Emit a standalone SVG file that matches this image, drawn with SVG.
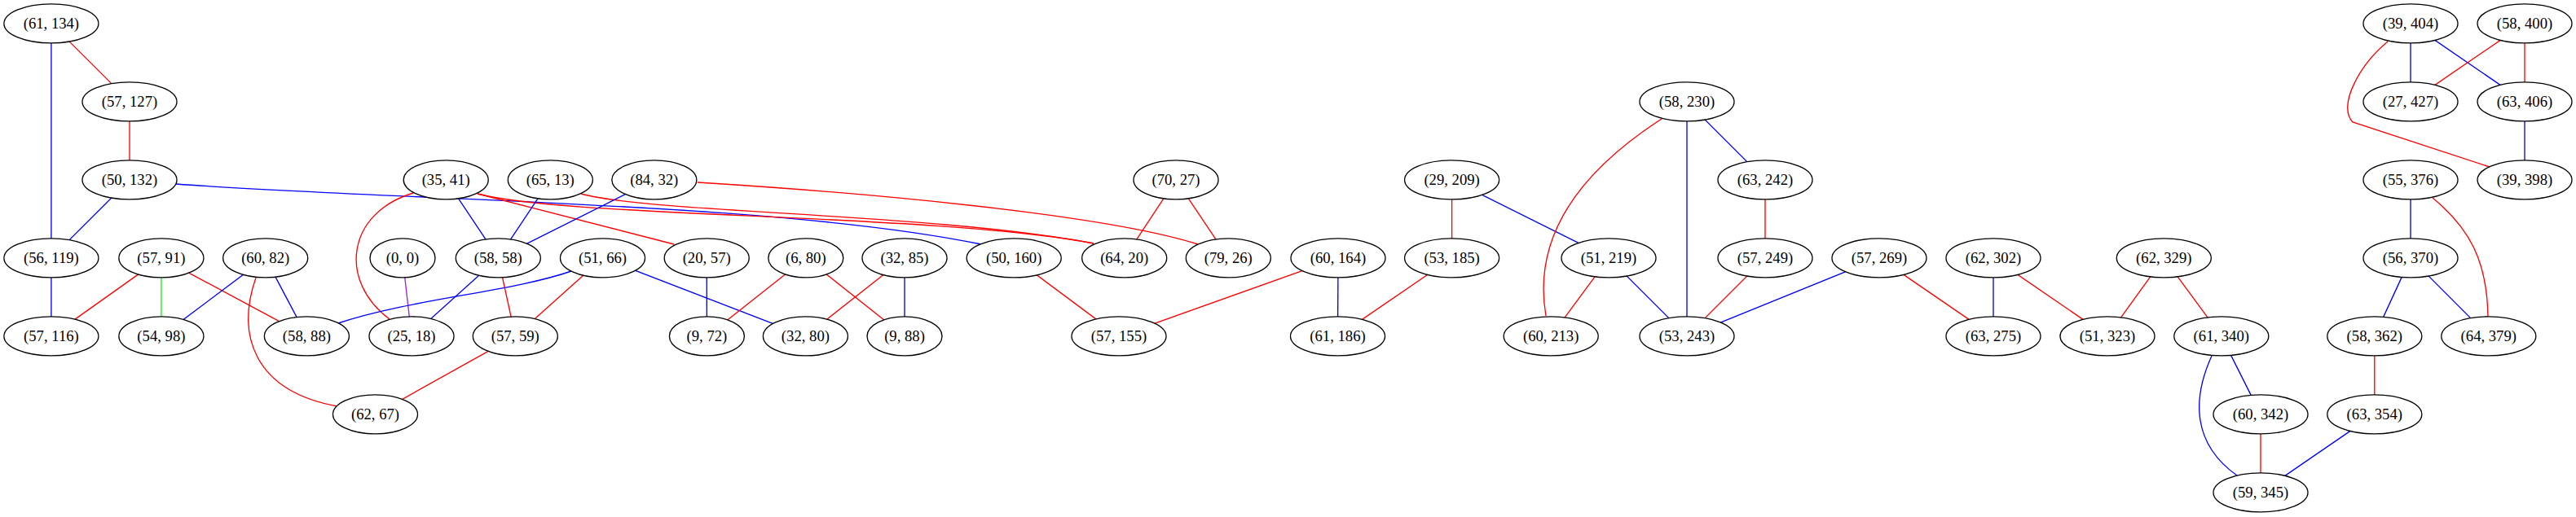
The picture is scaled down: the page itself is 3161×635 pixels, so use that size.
<svg xmlns="http://www.w3.org/2000/svg" width="3161" height="635" viewBox="0 0 3161 635">
<style>
.e{fill:none;stroke-width:1.33}
.r{stroke:#ff0000}.b{stroke:#0000ff}.g{stroke:#00ff00}.p{stroke:#a020f0}
.n ellipse{fill:#ffffff;stroke:#000000;stroke-width:1.33}
.n text{font-family:"Liberation Serif","Times New Roman",serif;font-size:18.67px;text-anchor:middle;fill:#000000}
</style>
<rect width="3161" height="635" fill="#ffffff"/>
<g id="edges">
<line class="e r" x1="62.9" y1="28.9" x2="159" y2="124.9"/>
<line class="e b" x1="62.9" y1="28.9" x2="62.9" y2="316.9"/>
<line class="e r" x1="159" y1="124.9" x2="159" y2="220.9"/>
<line class="e b" x1="159" y1="220.9" x2="62.9" y2="316.9"/>
<path class="e b" d="M216,226 C500,247 950,248 1204,300"/>
<line class="e b" x1="62.9" y1="316.9" x2="62.9" y2="412.9"/>
<line class="e r" x1="197.9" y1="316.9" x2="62.9" y2="412.9"/>
<line class="e g" x1="197.9" y1="316.9" x2="197.9" y2="412.9"/>
<line class="e r" x1="197.9" y1="316.9" x2="376.4" y2="412.9"/>
<line class="e b" x1="325.7" y1="316.9" x2="197.9" y2="412.9"/>
<line class="e b" x1="325.7" y1="316.9" x2="376.4" y2="412.9"/>
<path class="e r" d="M314,341 C290,410 310,480 414,499"/>
<line class="e p" x1="494" y1="316.9" x2="505" y2="412.9"/>
<path class="e r" d="M507,237 C425,262 415,345 478,392"/>
<line class="e b" x1="547.2" y1="220.9" x2="611.3" y2="316.9"/>
<path class="e r" d="M586,238 L827,300"/>
<path class="e r" d="M586,238 C700,268 1150,262 1342,299"/>
<line class="e b" x1="675.3" y1="220.9" x2="611.3" y2="316.9"/>
<path class="e r" d="M713,238 C800,262 1150,262 1342,299"/>
<line class="e b" x1="802.8" y1="220.9" x2="611.3" y2="316.9"/>
<path class="e r" d="M856,224 C1050,236 1350,262 1470,300"/>
<line class="e b" x1="611.3" y1="316.9" x2="505" y2="412.9"/>
<path class="e b" d="M701,333 C630,358 500,368 415,397"/>
<line class="e r" x1="611.3" y1="316.9" x2="632.3" y2="412.9"/>
<line class="e r" x1="739.5" y1="316.9" x2="632.3" y2="412.9"/>
<line class="e b" x1="739.5" y1="316.9" x2="988.4" y2="412.9"/>
<line class="e r" x1="632.3" y1="412.9" x2="460.5" y2="508.9"/>
<line class="e b" x1="867.2" y1="316.9" x2="867.4" y2="412.9"/>
<line class="e r" x1="988.8" y1="316.9" x2="867.4" y2="412.9"/>
<line class="e r" x1="988.8" y1="316.9" x2="1110" y2="412.9"/>
<line class="e r" x1="1110" y1="316.9" x2="988.4" y2="412.9"/>
<line class="e b" x1="1110" y1="316.9" x2="1110" y2="412.9"/>
<line class="e r" x1="1443" y1="220.9" x2="1379.7" y2="316.9"/>
<line class="e r" x1="1443" y1="220.9" x2="1507.3" y2="316.9"/>
<line class="e r" x1="1244.2" y1="316.9" x2="1373" y2="412.9"/>
<line class="e r" x1="1642" y1="316.9" x2="1373" y2="412.9"/>
<line class="e b" x1="1642" y1="316.9" x2="1641.5" y2="412.9"/>
<line class="e r" x1="1781.6" y1="220.9" x2="1781.6" y2="316.9"/>
<line class="e b" x1="1781.6" y1="220.9" x2="1974" y2="316.9"/>
<line class="e r" x1="1781.6" y1="316.9" x2="1641.5" y2="412.9"/>
<path class="e r" d="M2039,146 C1940,210 1880,290 1897,388"/>
<line class="e b" x1="2070" y1="124.9" x2="2070" y2="412.9"/>
<line class="e b" x1="2070" y1="124.9" x2="2166" y2="220.9"/>
<line class="e r" x1="2166" y1="220.9" x2="2166" y2="316.9"/>
<line class="e r" x1="1974" y1="316.9" x2="1903.2" y2="412.9"/>
<line class="e b" x1="1974" y1="316.9" x2="2070" y2="412.9"/>
<line class="e r" x1="2166" y1="316.9" x2="2070" y2="412.9"/>
<line class="e b" x1="2306" y1="316.9" x2="2070" y2="412.9"/>
<line class="e r" x1="2306" y1="316.9" x2="2446" y2="412.9"/>
<line class="e b" x1="2446" y1="316.9" x2="2446" y2="412.9"/>
<line class="e r" x1="2446" y1="316.9" x2="2586" y2="412.9"/>
<line class="e r" x1="2655.3" y1="316.9" x2="2586" y2="412.9"/>
<line class="e r" x1="2655.3" y1="316.9" x2="2725.8" y2="412.9"/>
<line class="e b" x1="2725.8" y1="412.9" x2="2774" y2="508.9"/>
<path class="e b" d="M2714,437 C2690,490 2690,545 2745,584"/>
<line class="e r" x1="2774" y1="508.9" x2="2774" y2="604.9"/>
<line class="e b" x1="2913.8" y1="508.9" x2="2774" y2="604.9"/>
<line class="e r" x1="2913.8" y1="412.9" x2="2913.8" y2="508.9"/>
<line class="e b" x1="2958" y1="316.9" x2="2913.8" y2="412.9"/>
<line class="e b" x1="2958" y1="316.9" x2="3053.8" y2="412.9"/>
<line class="e b" x1="2958" y1="220.9" x2="2958" y2="316.9"/>
<path class="e r" d="M2985,243 C3030,280 3052,320 3053,389"/>
<line class="e b" x1="2958" y1="28.9" x2="2958" y2="124.9"/>
<line class="e b" x1="2958" y1="28.9" x2="3098" y2="124.9"/>
<path class="e r" d="M2930,51 C2895,80 2868,130 2887,150 L3055,205"/>
<line class="e r" x1="3098" y1="28.9" x2="2958" y2="124.9"/>
<line class="e r" x1="3098" y1="28.9" x2="3098" y2="124.9"/>
<line class="e b" x1="3098" y1="124.9" x2="3098" y2="220.9"/>
</g>
<g id="n1" class="n"><ellipse cx="62.9" cy="28.9" rx="58" ry="24"/><text x="62.9" y="34.9">(61, 134)</text></g>
<g id="n2" class="n"><ellipse cx="159" cy="124.9" rx="58" ry="24"/><text x="159" y="130.9">(57, 127)</text></g>
<g id="n3" class="n"><ellipse cx="159" cy="220.9" rx="58" ry="24"/><text x="159" y="226.9">(50, 132)</text></g>
<g id="n4" class="n"><ellipse cx="62.9" cy="316.9" rx="58" ry="24"/><text x="62.9" y="322.9">(56, 119)</text></g>
<g id="n5" class="n"><ellipse cx="62.9" cy="412.9" rx="58" ry="24"/><text x="62.9" y="418.9">(57, 116)</text></g>
<g id="n6" class="n"><ellipse cx="197.9" cy="316.9" rx="52" ry="24"/><text x="197.9" y="322.9">(57, 91)</text></g>
<g id="n7" class="n"><ellipse cx="197.9" cy="412.9" rx="52" ry="24"/><text x="197.9" y="418.9">(54, 98)</text></g>
<g id="n8" class="n"><ellipse cx="325.7" cy="316.9" rx="52" ry="24"/><text x="325.7" y="322.9">(60, 82)</text></g>
<g id="n9" class="n"><ellipse cx="376.4" cy="412.9" rx="52" ry="24"/><text x="376.4" y="418.9">(58, 88)</text></g>
<g id="n10" class="n"><ellipse cx="460.5" cy="508.9" rx="52" ry="24"/><text x="460.5" y="514.9">(62, 67)</text></g>
<g id="n11" class="n"><ellipse cx="494" cy="316.9" rx="40" ry="24"/><text x="494" y="322.9">(0, 0)</text></g>
<g id="n12" class="n"><ellipse cx="505" cy="412.9" rx="52" ry="24"/><text x="505" y="418.9">(25, 18)</text></g>
<g id="n13" class="n"><ellipse cx="547.2" cy="220.9" rx="52" ry="24"/><text x="547.2" y="226.9">(35, 41)</text></g>
<g id="n14" class="n"><ellipse cx="675.3" cy="220.9" rx="52" ry="24"/><text x="675.3" y="226.9">(65, 13)</text></g>
<g id="n15" class="n"><ellipse cx="802.8" cy="220.9" rx="52" ry="24"/><text x="802.8" y="226.9">(84, 32)</text></g>
<g id="n16" class="n"><ellipse cx="611.3" cy="316.9" rx="52" ry="24"/><text x="611.3" y="322.9">(58, 58)</text></g>
<g id="n17" class="n"><ellipse cx="739.5" cy="316.9" rx="52" ry="24"/><text x="739.5" y="322.9">(51, 66)</text></g>
<g id="n18" class="n"><ellipse cx="867.2" cy="316.9" rx="52" ry="24"/><text x="867.2" y="322.9">(20, 57)</text></g>
<g id="n19" class="n"><ellipse cx="632.3" cy="412.9" rx="52" ry="24"/><text x="632.3" y="418.9">(57, 59)</text></g>
<g id="n20" class="n"><ellipse cx="867.4" cy="412.9" rx="46" ry="24"/><text x="867.4" y="418.9">(9, 72)</text></g>
<g id="n21" class="n"><ellipse cx="988.8" cy="316.9" rx="46" ry="24"/><text x="988.8" y="322.9">(6, 80)</text></g>
<g id="n22" class="n"><ellipse cx="988.4" cy="412.9" rx="52" ry="24"/><text x="988.4" y="418.9">(32, 80)</text></g>
<g id="n23" class="n"><ellipse cx="1110" cy="316.9" rx="52" ry="24"/><text x="1110" y="322.9">(32, 85)</text></g>
<g id="n24" class="n"><ellipse cx="1110" cy="412.9" rx="46" ry="24"/><text x="1110" y="418.9">(9, 88)</text></g>
<g id="n25" class="n"><ellipse cx="1244.2" cy="316.9" rx="58" ry="24"/><text x="1244.2" y="322.9">(50, 160)</text></g>
<g id="n26" class="n"><ellipse cx="1379.7" cy="316.9" rx="52" ry="24"/><text x="1379.7" y="322.9">(64, 20)</text></g>
<g id="n27" class="n"><ellipse cx="1507.3" cy="316.9" rx="52" ry="24"/><text x="1507.3" y="322.9">(79, 26)</text></g>
<g id="n28" class="n"><ellipse cx="1443" cy="220.9" rx="52" ry="24"/><text x="1443" y="226.9">(70, 27)</text></g>
<g id="n29" class="n"><ellipse cx="1373" cy="412.9" rx="58" ry="24"/><text x="1373" y="418.9">(57, 155)</text></g>
<g id="n30" class="n"><ellipse cx="1642" cy="316.9" rx="58" ry="24"/><text x="1642" y="322.9">(60, 164)</text></g>
<g id="n31" class="n"><ellipse cx="1641.5" cy="412.9" rx="58" ry="24"/><text x="1641.5" y="418.9">(61, 186)</text></g>
<g id="n32" class="n"><ellipse cx="1781.6" cy="220.9" rx="58" ry="24"/><text x="1781.6" y="226.9">(29, 209)</text></g>
<g id="n33" class="n"><ellipse cx="1781.6" cy="316.9" rx="58" ry="24"/><text x="1781.6" y="322.9">(53, 185)</text></g>
<g id="n34" class="n"><ellipse cx="1974" cy="316.9" rx="58" ry="24"/><text x="1974" y="322.9">(51, 219)</text></g>
<g id="n35" class="n"><ellipse cx="2070" cy="124.9" rx="58" ry="24"/><text x="2070" y="130.9">(58, 230)</text></g>
<g id="n36" class="n"><ellipse cx="2166" cy="220.9" rx="58" ry="24"/><text x="2166" y="226.9">(63, 242)</text></g>
<g id="n37" class="n"><ellipse cx="2166" cy="316.9" rx="58" ry="24"/><text x="2166" y="322.9">(57, 249)</text></g>
<g id="n38" class="n"><ellipse cx="1903.2" cy="412.9" rx="58" ry="24"/><text x="1903.2" y="418.9">(60, 213)</text></g>
<g id="n39" class="n"><ellipse cx="2070" cy="412.9" rx="58" ry="24"/><text x="2070" y="418.9">(53, 243)</text></g>
<g id="n40" class="n"><ellipse cx="2306" cy="316.9" rx="58" ry="24"/><text x="2306" y="322.9">(57, 269)</text></g>
<g id="n41" class="n"><ellipse cx="2446" cy="316.9" rx="58" ry="24"/><text x="2446" y="322.9">(62, 302)</text></g>
<g id="n42" class="n"><ellipse cx="2446" cy="412.9" rx="58" ry="24"/><text x="2446" y="418.9">(63, 275)</text></g>
<g id="n43" class="n"><ellipse cx="2586" cy="412.9" rx="58" ry="24"/><text x="2586" y="418.9">(51, 323)</text></g>
<g id="n44" class="n"><ellipse cx="2655.3" cy="316.9" rx="58" ry="24"/><text x="2655.3" y="322.9">(62, 329)</text></g>
<g id="n45" class="n"><ellipse cx="2725.8" cy="412.9" rx="58" ry="24"/><text x="2725.8" y="418.9">(61, 340)</text></g>
<g id="n46" class="n"><ellipse cx="2774" cy="508.9" rx="58" ry="24"/><text x="2774" y="514.9">(60, 342)</text></g>
<g id="n47" class="n"><ellipse cx="2774" cy="604.9" rx="58" ry="24"/><text x="2774" y="610.9">(59, 345)</text></g>
<g id="n48" class="n"><ellipse cx="2913.8" cy="508.9" rx="58" ry="24"/><text x="2913.8" y="514.9">(63, 354)</text></g>
<g id="n49" class="n"><ellipse cx="2913.8" cy="412.9" rx="58" ry="24"/><text x="2913.8" y="418.9">(58, 362)</text></g>
<g id="n50" class="n"><ellipse cx="3053.8" cy="412.9" rx="58" ry="24"/><text x="3053.8" y="418.9">(64, 379)</text></g>
<g id="n51" class="n"><ellipse cx="2958" cy="316.9" rx="58" ry="24"/><text x="2958" y="322.9">(56, 370)</text></g>
<g id="n52" class="n"><ellipse cx="2958" cy="220.9" rx="58" ry="24"/><text x="2958" y="226.9">(55, 376)</text></g>
<g id="n53" class="n"><ellipse cx="3098" cy="220.9" rx="58" ry="24"/><text x="3098" y="226.9">(39, 398)</text></g>
<g id="n54" class="n"><ellipse cx="3098" cy="124.9" rx="58" ry="24"/><text x="3098" y="130.9">(63, 406)</text></g>
<g id="n55" class="n"><ellipse cx="2958" cy="124.9" rx="58" ry="24"/><text x="2958" y="130.9">(27, 427)</text></g>
<g id="n56" class="n"><ellipse cx="2958" cy="28.9" rx="58" ry="24"/><text x="2958" y="34.9">(39, 404)</text></g>
<g id="n57" class="n"><ellipse cx="3098" cy="28.9" rx="58" ry="24"/><text x="3098" y="34.9">(58, 400)</text></g>
</svg>
